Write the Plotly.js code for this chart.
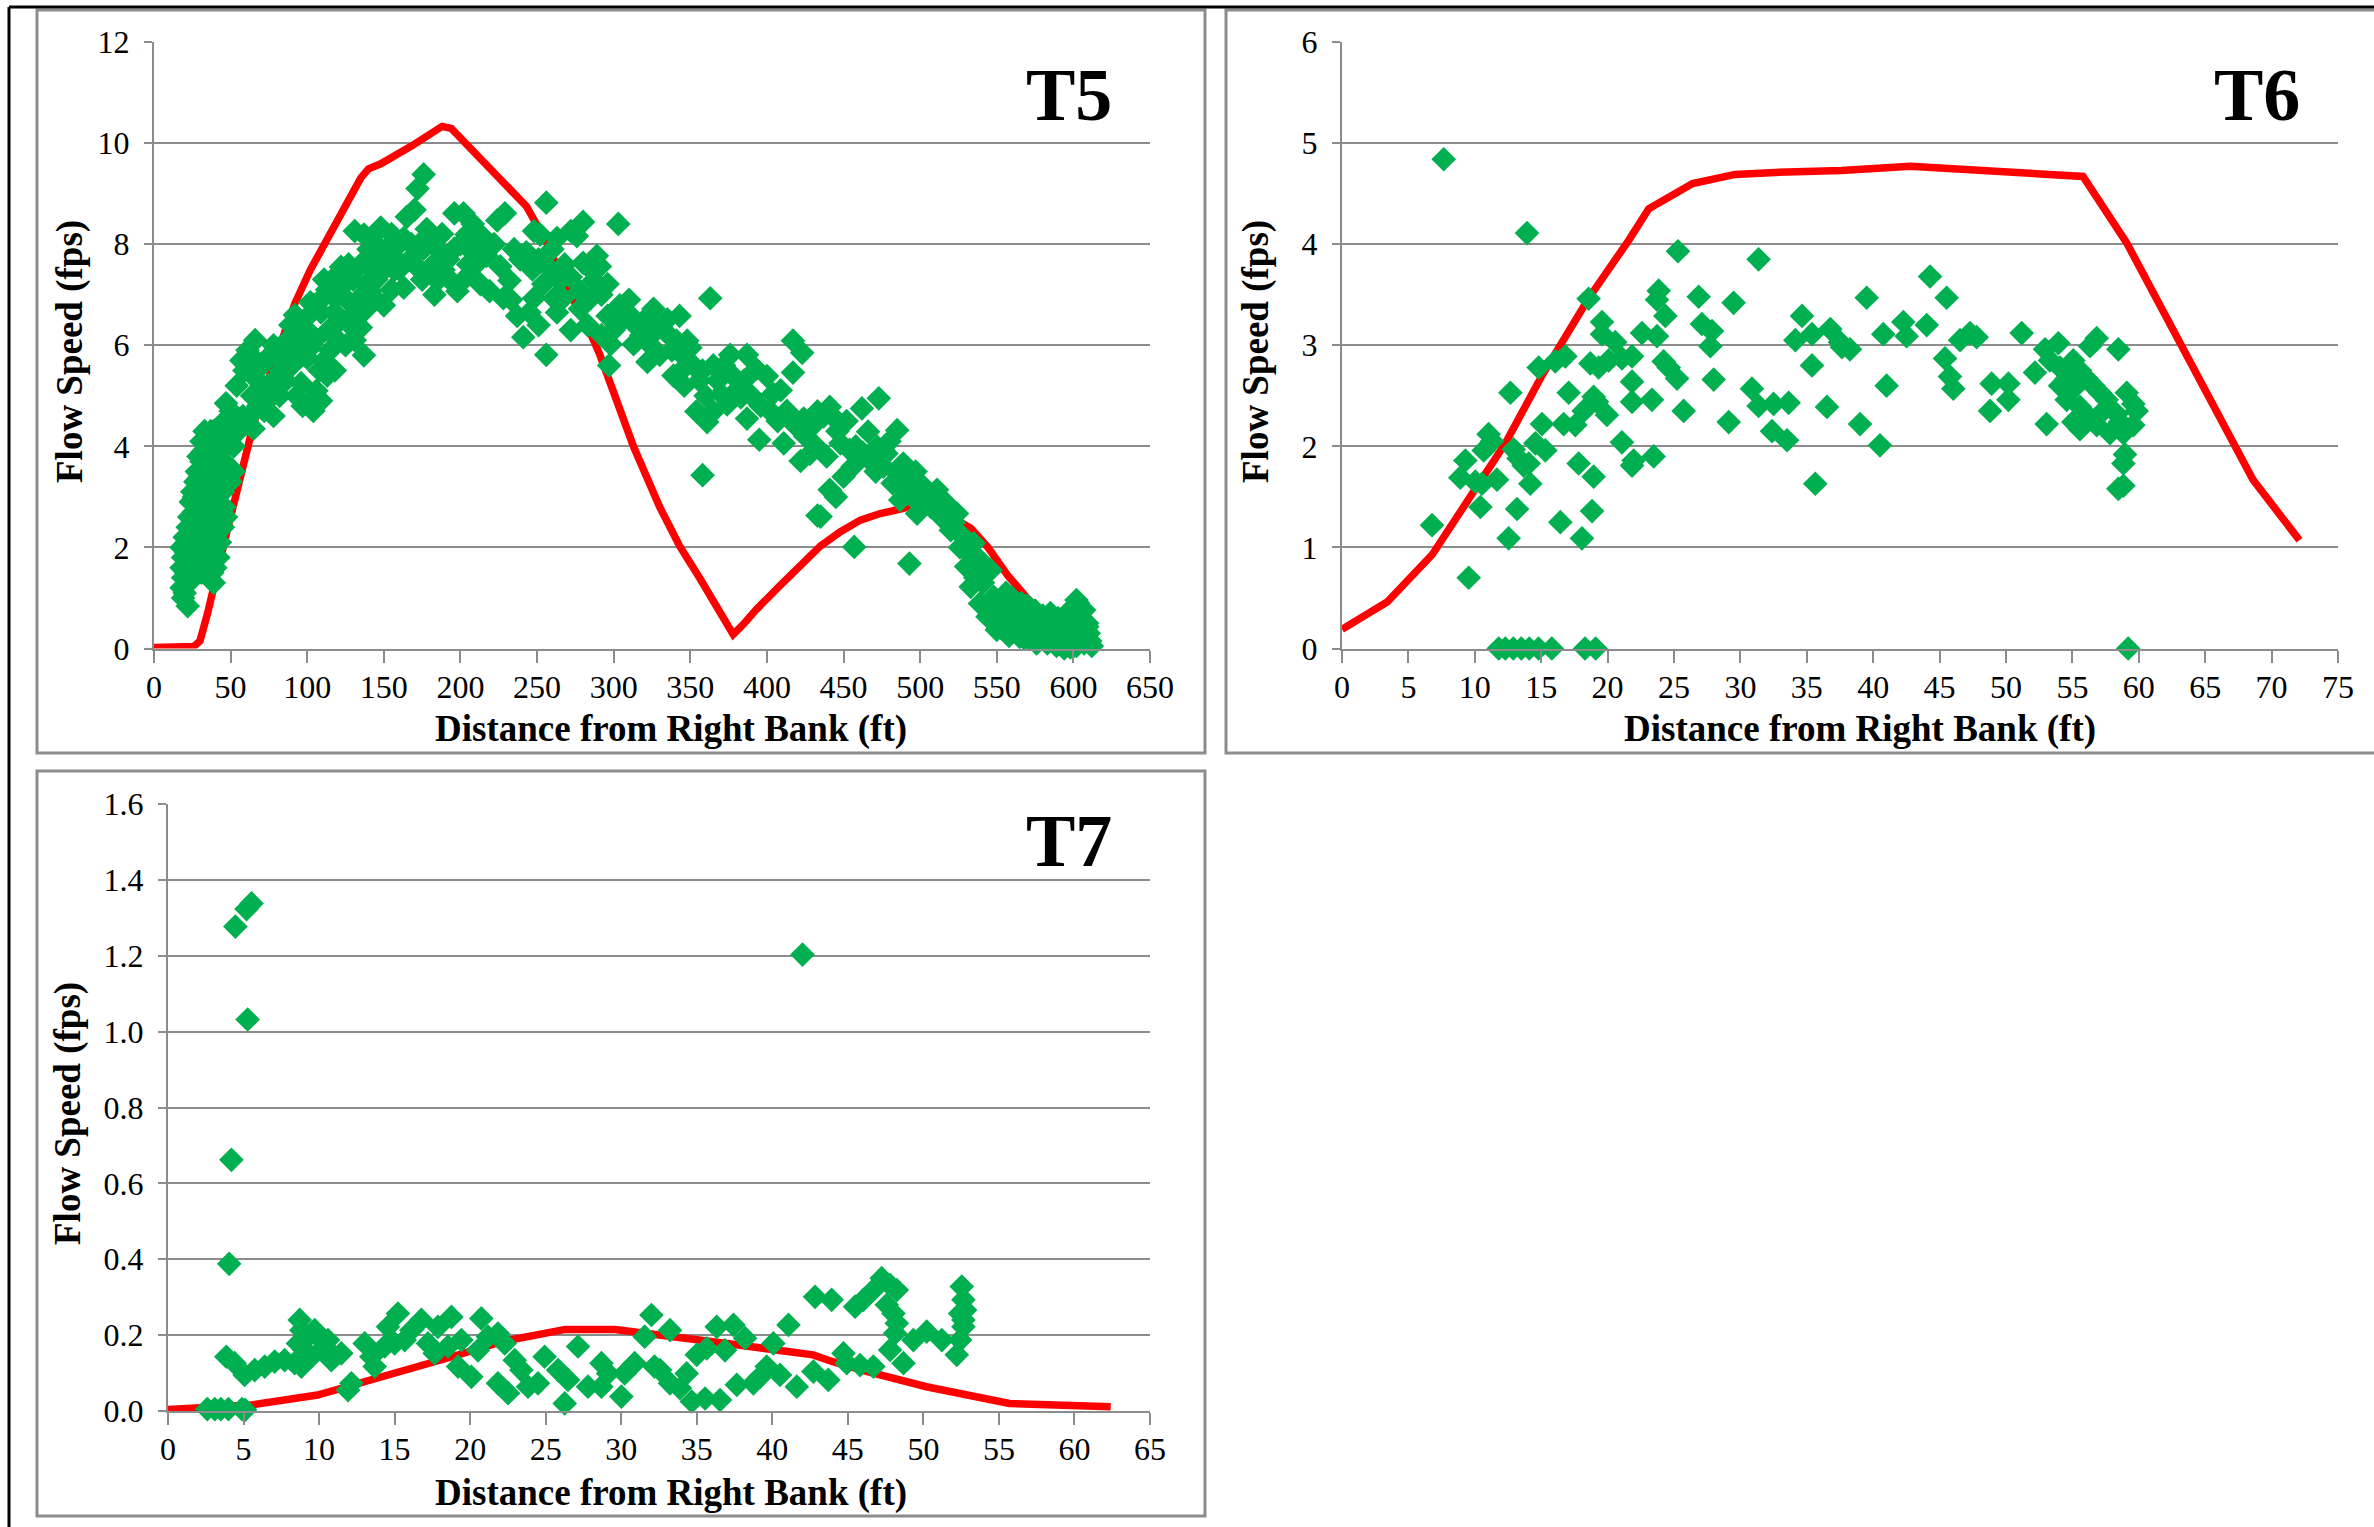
<!DOCTYPE html>
<html><head><meta charset="utf-8">
<script src="https://cdn.plot.ly/plotly-3.0.1.min.js"></script>
<style>html,body{margin:0;padding:0;background:#fff;} #chart{width:2374px;height:1527px;}</style>
</head><body><div id="chart"></div>
<script>
// ---------------- DATA ----------------
const panelLabels = ['T5', 'T6', 'T7'];
const xTitle = 'Distance from Right Bank (ft)';
const yTitle = 'Flow Speed (fps)';

// T5 modelled speed (red line)
const t5LineX = [0, 26, 30, 35, 47, 57, 65, 76, 86, 92, 102, 115, 126, 135, 140, 148, 168, 188, 194, 205, 213, 224, 239, 243, 256, 269, 282, 291, 302, 313, 330, 343, 356, 372, 378, 385, 393, 409, 435, 448, 461, 474, 489, 498, 515, 533, 544, 557, 570, 590, 605];
const t5LineY = [0.02, 0.04, 0.15, 0.70, 2.24, 3.50, 4.45, 5.45, 6.37, 6.83, 7.49, 8.19, 8.75, 9.31, 9.49, 9.59, 9.94, 10.33, 10.29, 9.94, 9.73, 9.35, 8.89, 8.75, 8.05, 7.14, 6.44, 5.81, 4.90, 3.99, 2.80, 2.03, 1.40, 0.56, 0.28, 0.49, 0.77, 1.26, 2.03, 2.31, 2.54, 2.67, 2.77, 2.87, 2.70, 2.38, 2.01, 1.45, 0.99, 0.40, 0.15];

// T5 measured speed (green diamonds) [distance, speed]
const t5Points = [
[22,0.84],[19,1.0],[18,1.2],[19,1.4],[18,1.6],[19,1.8],[18,2.0],[20,2.2],[21,1.5],[20,1.1],[22,1.3],[23,1.7],[21,1.9],[22,2.4],[24,2.1],[23,2.6],[24,2.9],[25,2.4],[25,3.1],[26,2.7],[27,3.3],[26,3.0],[28,2.9],[28,3.5],[29,3.2],[29,3.8],[30,3.4],[31,3.7],[31,4.1],[32,3.9],[33,4.3],[34,4.0],[35,3.6],[35,4.2],[36,3.8],[37,4.3],[37,3.4],[36,3.1],[34,3.3],[33,2.9],[32,2.6],[31,2.3],[30,2.0],[30,2.6],[29,2.3],[28,1.9],[27,1.6],[26,1.4],[25,1.8],[24,1.5],[26,2.0],[27,2.2],[29,1.7],[31,1.5],[33,1.6],[34,2.0],[35,2.4],[36,2.7],[38,3.0],[39,2.7],[38,2.3],[37,1.9],[38,1.5],[39,1.3],[40,1.6],[40,2.0],[41,2.4],[42,2.8],[41,3.1],[43,3.3],[42,3.7],[44,3.9],[44,3.5],[45,3.1],[46,2.8],[47,2.6],[45,2.4],[43,2.1],[42,1.8],[44,4.2],[46,4.0],[47,3.5],[49,3.6],[50,3.3],[52,3.5],[40,3.6],[39,4.0],[41,4.3],[43,4.4],
[39,4.3],[46,4.5],[50,4.7],[47,4.85],[54,5.2],[59,5.5],[57,5.7],[63,5.8],[61,5.9],[67,5.5],[70,5.1],[72,4.7],[65,4.35],[61,4.55],[76,5.25],[80,5.8],[87,6.1],[83,5.5],[89,6.4],[94,6.2],[96,5.25],[100,4.85],[104,4.7],[109,4.9],[113,5.4],[118,5.5],[111,5.7],[100,5.75],[102,5.95],[98,6.5],[104,6.8],[109,6.9],[113,7.1],[118,7.35],[122,7.55],[124,7.2],[126,6.9],[131,6.65],[135,6.35],[137,5.8],[131,6.1],[128,6.4],[122,6.5],[118,6.65],[109,6.65],[107,6.85],[111,7.3],[102,6.85],[96,6.0],[91,5.8],[85,5.95],[78,6.0],[55,4.3],[52,4.0],[58,4.6],[64,5.0],[68,4.8],[74,4.9],[78,4.6],[82,5.0],[86,5.3],[90,5.6],[93,5.0],[97,4.8],[106,5.1],[108,5.5],[115,5.9],[120,6.1],[125,6.0],[80,5.3],[70,5.6],[66,6.1],[74,5.75],[88,5.7],[92,6.6],[100,6.3],[105,6.1],[114,6.3],[116,7.0],[120,7.0],[127,7.6],[130,7.3],[133,6.9],[138,6.7],[140,7.0],[66,5.35],
[131,8.26],[137,8.19],[140,7.9],[148,8.33],[152,7.9],[158,7.7],[163,8.12],[165,8.54],[170,8.68],[172,9.1],[176,9.38],[160,8.0],[148,7.77],[150,7.49],[141,7.56],[141,7.07],[144,6.93],[150,6.79],[163,7.14],[157,7.49],[167,7.7],[176,7.91],[181,8.12],[185,7.91],[185,7.28],[181,7.56],[189,7.49],[196,7.91],[196,8.61],[202,8.61],[198,7.07],[204,7.35],[209,7.7],[211,8.05],[213,7.21],[204,8.19],[145,7.3],[155,7.1],[160,7.5],[170,7.6],[173,8.0],[178,8.3],[188,8.2],[192,7.7],[200,8.0],[206,7.9],[135,7.6],[138,7.2],[145,8.0],[155,8.2],[168,8.0],[175,7.3],[183,7.0],[193,7.3],[205,7.6],[208,8.4],
[229,8.61],[224,8.47],[256,8.82],[248,8.26],[252,8.19],[263,8.12],[272,8.26],[280,8.44],[276,8.16],[303,8.40],[213,8.19],[217,7.77],[226,7.56],[232,7.28],[228,6.93],[219,7.07],[239,7.70],[243,7.84],[251,7.70],[254,7.21],[259,7.49],[265,7.28],[272,7.35],[280,7.63],[289,7.77],[291,7.56],[287,7.28],[296,7.21],[278,7.07],[261,6.93],[263,6.65],[278,6.72],[272,6.30],[256,5.81],[241,6.16],[237,6.58],[245,6.65],[248,6.93],[267,6.93],[285,6.93],[297,5.60],[298,6.02],[296,6.58],[304,6.79],[309,6.65],[304,6.44],[315,6.37],[326,6.72],[335,6.51],[343,6.58],[313,6.02],[322,5.67],[330,5.81],[335,6.23],[341,6.09],[348,6.09],[343,5.46],[350,5.95],[363,6.93],[354,4.69],[361,4.48],[365,5.60],[370,5.04],[376,5.81],[378,5.39],[387,5.81],[383,4.97],[387,4.55],[393,5.53],[400,5.39],[404,5.04],[409,5.11],[417,6.09],[423,5.85],[417,5.46],[395,4.13],[411,4.06],[422,3.71],[428,3.85],[430,4.41],[424,4.55],[433,4.69],[358,3.43],[433,2.63],[374,4.83],[365,4.69],
[318,6.2],[324,6.0],[328,6.3],[338,5.9],[345,5.8],[352,5.6],[356,5.3],[360,5.0],[368,5.3],[372,5.6],[380,5.1],[385,5.3],[390,5.0],[396,4.8],[402,4.7],[407,4.5],[413,4.7],[419,4.4],[425,4.2],[432,4.0],[358,5.5],[346,5.2],[339,5.4],[310,6.9],[320,6.5],[300,6.3],[292,7.0],[285,7.5],[268,7.6],[260,7.9],[247,7.5],[235,7.9],[222,8.0],[210,7.6],[233,6.9],[251,6.4],[283,6.4],[292,6.2],
[441,4.78],[437,4.59],[443,4.59],[462,4.75],[473,4.95],[485,4.32],[466,4.29],[448,4.06],[439,3.80],[454,3.93],[463,3.86],[472,3.99],[478,3.86],[450,3.40],[471,3.50],[441,3.14],[445,3.00],[435,2.61],[482,3.27],[489,3.66],[493,3.40],[487,2.94],[500,3.27],[504,3.07],[498,2.67],[511,3.14],[517,2.87],[511,2.74],[524,2.67],[520,2.34],[528,2.21],[535,2.08],[530,1.62],[539,1.75],[546,1.55],[533,1.22],[539,0.89],[548,1.02],[544,0.63],[550,0.37],[557,0.89],[561,0.43],[570,0.70],[574,0.30],[578,0.56],[585,0.17],[587,0.63],[594,0.37],[602,0.96],[607,0.76],[609,0.43],[607,0.10],[600,0.04],[591,0.10],[576,0.10],[565,0.23],[493,1.68],[457,2.01],
[458,4.0],[468,3.7],[476,3.6],[484,3.5],[495,3.0],[502,2.9],[507,2.8],[514,2.6],[522,2.5],[526,2.0],[532,1.9],[536,1.4],[541,1.3],[446,4.3],[452,4.5],[456,3.6],[480,4.1],[490,3.2],[497,3.5],
[548,0.95],[550,0.75],[552,0.55],[555,0.8],[557,0.6],[559,0.4],[561,0.7],[563,0.5],[565,0.3],[567,0.6],[569,0.45],[571,0.2],[573,0.55],[575,0.35],[577,0.15],[579,0.45],[581,0.3],[583,0.1],[585,0.5],[587,0.25],[589,0.05],[591,0.4],[593,0.2],[595,0.55],[597,0.3],[599,0.1],[601,0.65],[603,0.45],[604,0.25],[605,0.8],[606,0.55],[607,0.35],[608,0.15],[609,0.5],[610,0.3],[603,0.9],[600,0.8],[596,0.7],[590,0.6],[585,0.7],[580,0.65],[575,0.75],[570,0.85],[566,0.9],[560,1.0],[556,1.1],[598,0.02],[602,0.05],[594,0.0],[588,0.15],[578,0.25],[568,0.2],[558,0.25],[553,0.4],[611,0.15],[612,0.05]
];

// T6 modelled speed (red line)
const t6LineX = [0, 3.4, 6.8, 10.0, 12.3, 15.1, 18.6, 21.6, 23.1, 26.4, 29.6, 32.6, 37.6, 42.8, 48.8, 55.8, 59.1, 63.4, 68.6, 72.1];
const t6LineY = [0.19, 0.46, 0.93, 1.56, 2.03, 2.71, 3.47, 4.04, 4.35, 4.60, 4.69, 4.71, 4.73, 4.77, 4.72, 4.67, 4.01, 2.96, 1.67, 1.07];

// T6 measured speed
const t6Points = [
[7.66,4.84],[13.93,4.11],[25.3,3.93],[31.37,3.85],[23.85,3.54],[23.72,3.45],[26.86,3.48],[29.49,3.42],[18.57,3.46],[24.35,3.29],[19.58,3.23],[27.1,3.21],[27.86,3.14],[34.64,3.29],[35.39,3.11],[36.77,3.16],[34.14,3.05],[37.65,2.98],[22.59,3.12],[23.72,3.09],[19.58,3.11],[20.58,3.03],[27.74,2.99],[16.82,2.89],[16.06,2.84],[14.81,2.78],[18.7,2.82],[19.33,2.78],[20.08,2.85],[21.08,2.87],[21.84,2.89],[24.22,2.84],[24.6,2.78],[25.23,2.67],[27.99,2.66],[35.39,2.80],[12.68,2.53],[17.07,2.53],[21.84,2.64],[18.95,2.49],[19.2,2.44],[21.84,2.44],[23.34,2.46],[30.87,2.57],[31.37,2.40],[32.5,2.42],[33.63,2.43],[36.52,2.39],[18.2,2.35],[19.95,2.31],[25.73,2.35],[29.12,2.24],[32.38,2.15],[33.51,2.06],[15.06,2.22],[16.69,2.22],[17.57,2.21],[11.04,2.12],[11.3,2.05],[10.67,1.96],[14.56,2.03],[15.31,1.96],[12.93,1.97],[13.3,1.88],[14.06,1.83],[13.68,1.81],[21.08,2.04],[9.29,1.86],[8.91,1.69],[10.04,1.65],[10.54,1.63],[11.67,1.67],[14.18,1.63],[17.82,1.83],[18.95,1.70],[21.96,1.86],[21.84,1.81],[23.47,1.90],[35.64,1.63],[10.42,1.40],[13.18,1.38],[18.83,1.36],[6.78,1.22],[16.44,1.25],[12.55,1.09],[18.07,1.09],[9.54,0.70],
[11.8,0],[12.3,0],[12.9,0],[13.5,0],[14.1,0],[14.8,0],[15.8,0],[18.3,0],[19.1,0],
[44.28,3.68],[45.53,3.47],[39.51,3.47],[42.27,3.23],[44.03,3.20],[42.52,3.09],[40.76,3.11],[37.5,3.03],[38.25,2.96],[46.54,3.05],[47.29,3.12],[47.79,3.08],[51.18,3.12],[45.41,2.87],[45.78,2.69],[46.03,2.57],[41.01,2.60],[48.92,2.62],[50.18,2.62],[50.18,2.46],[48.8,2.35],[52.18,2.73],[52.94,2.96],[53.94,3.02],[53.31,2.85],[56.83,3.07],[56.33,2.99],[58.46,2.96],[54.07,2.78],[54.57,2.67],[55.07,2.85],[55.57,2.75],[56.07,2.67],[56.58,2.60],[57.08,2.53],[55.07,2.57],[54.07,2.60],[54.57,2.46],[55.57,2.39],[56.33,2.28],[57.33,2.35],[57.58,2.46],[55.07,2.24],[55.57,2.17],[56.83,2.21],[57.83,2.13],[59.09,2.53],[59.59,2.42],[59.84,2.35],[59.59,2.21],[58.58,2.24],[58.84,2.13],[58.33,2.32],[53.06,2.22],[39.01,2.22],[40.51,2.01],[58.96,1.92],[58.84,1.83],[58.46,1.58],[58.84,1.61],[59.2,0]
];

// T7 modelled speed (red line)
const t7LineX = [0, 5.5, 9.9, 12.4, 15.5, 18.8, 22.1, 26.3, 29.6, 32.6, 37.0, 42.7, 44.0, 46.3, 50.2, 55.7, 62.4];
const t7LineY = [0.004, 0.016, 0.042, 0.069, 0.104, 0.143, 0.183, 0.215, 0.215, 0.198, 0.178, 0.148, 0.130, 0.104, 0.064, 0.020, 0.011];

// T7 measured speed
const t7Points = [
[4.46,1.277],[5.2,1.323],[5.53,1.338],[5.27,1.032],[4.2,0.662],[4.05,0.388],[42.0,1.203],
[2.6,0.005],[3.1,0.005],[3.5,0.005],[4.0,0.005],[4.9,0.005],[5.1,0.003],
[3.86,0.143],[4.41,0.126],[5.07,0.095],[5.74,0.108],[6.4,0.117],[7.06,0.13],[7.72,0.134],[8.38,0.126],[8.72,0.24],[8.83,0.213],[8.6,0.178],[8.83,0.117],[9.27,0.196],[9.71,0.213],[9.05,0.16],[9.49,0.143],[9.93,0.196],[10.59,0.187],[10.37,0.17],[11.03,0.143],[11.47,0.152],[10.81,0.134],[12.14,0.073],[11.92,0.055],[13.02,0.178],[13.46,0.143],[13.68,0.117],[14.56,0.222],[15.22,0.257],[14.34,0.17],[15.0,0.178],[15.67,0.187],[16.11,0.213],[16.77,0.24],[17.21,0.178],[17.65,0.152],[17.87,0.222],[18.76,0.248],[18.53,0.17],[19.42,0.187],[19.2,0.117],[20.08,0.09],[20.74,0.244],[20.52,0.16],[21.18,0.196],[21.84,0.204],[22.29,0.178],[21.84,0.073],[22.95,0.134],[23.39,0.108],[22.51,0.047],[23.83,0.064],[24.49,0.073],[24.93,0.143],[25.82,0.108],[26.48,0.082],[26.26,0.02],[27.14,0.17],[27.8,0.064],[28.69,0.126],[29.13,0.099],[28.69,0.064],[30.01,0.038],[30.23,0.099],[30.89,0.126],[31.55,0.196],[32.0,0.253],[32.2,0.117],
[33.23,0.213],[32.57,0.108],[33.23,0.073],[33.89,0.06],[34.33,0.099],[34.67,0.025],[35.0,0.148],[35.66,0.165],[35.55,0.033],[36.32,0.222],[36.54,0.029],[36.87,0.16],[37.43,0.227],[38.2,0.192],[37.65,0.069],[38.75,0.073],[39.19,0.09],[39.63,0.117],[40.07,0.178],[40.51,0.095],[41.07,0.227],[41.62,0.064],[42.72,0.104],[42.83,0.301],[43.93,0.293],[43.71,0.082],[44.71,0.152],[44.93,0.126],[45.81,0.121],[46.69,0.117],[45.48,0.275],[46.03,0.293],[46.69,0.319],[47.24,0.35],[47.8,0.332],[48.24,0.319],[47.58,0.28],[48.02,0.257],[48.24,0.231],[48.13,0.205],[47.8,0.161],[48.68,0.126],[49.34,0.187],[50.22,0.209],[51.22,0.187],[52.21,0.148],[52.43,0.187],[52.65,0.222],[52.43,0.257],[52.65,0.293],[52.54,0.328],[52.76,0.266],[52.65,0.24]
];

// ---------------- CHART ----------------
const W = 2374, H = 1527;
const GREEN = '#00B050', RED = '#FF0000', GRID = '#8c8c8c';
const FONT = 'Liberation Serif, Times New Roman, serif';
const px = v => v / W;
const py = v => 1 - v / H;

function lineTrace(xs, ys, ax) {
  return {x: xs, y: ys, xaxis: ax[0], yaxis: ax[1], type: 'scatter', mode: 'lines',
    line: {color: RED, width: 7.5}, showlegend: false, hoverinfo: 'skip', cliponaxis: false};
}
function pointTrace(pts, ax) {
  return {x: pts.map(p => p[0]), y: pts.map(p => p[1]), xaxis: ax[0], yaxis: ax[1],
    type: 'scatter', mode: 'markers', cliponaxis: false,
    marker: {symbol: 'diamond', size: 19, color: GREEN, line: {width: 0}}, showlegend: false};
}

const traces = [
  lineTrace(t5LineX, t5LineY, ['x', 'y']), pointTrace(t5Points, ['x', 'y']),
  lineTrace(t6LineX, t6LineY, ['x2', 'y2']), pointTrace(t6Points, ['x2', 'y2']),
  lineTrace(t7LineX, t7LineY, ['x3', 'y3']), pointTrace(t7Points, ['x3', 'y3'])
];

function xAxis(domain, range, dtick, anchor) {
  return {domain: domain, range: range, dtick: dtick, tick0: 0, anchor: anchor,
    showgrid: false, zeroline: false, showline: true, linecolor: GRID, linewidth: 2,
    ticks: 'outside', ticklen: 12, tickwidth: 2, tickcolor: GRID, ticklabelstandoff: -3,
    tickfont: {family: FONT, size: 32, color: '#000'}};
}
function yAxis(domain, range, dtick, anchor, fmt) {
  return {domain: domain, range: range, dtick: dtick, tick0: 0, anchor: anchor, tickformat: fmt,
    showgrid: true, gridcolor: GRID, gridwidth: 2, zeroline: false, showline: true, linecolor: GRID, linewidth: 2,
    ticks: 'outside', ticklen: 8, tickwidth: 2, tickcolor: GRID, ticklabelstandoff: 8,
    tickfont: {family: FONT, size: 32, color: '#000'}};
}

function textAnn(text, x, y, size, angle) {
  return {text: text, xref: 'paper', yref: 'paper', x: px(x), y: py(y), showarrow: false,
    xanchor: 'center', yanchor: 'middle', textangle: angle || 0,
    font: {family: FONT, size: size, color: '#000', weight: 'bold'}};
}

const topDom = [py(648.5), py(42)];
const layout = {
  width: W, height: H, margin: {l: 0, r: 0, t: 0, b: 0},
  paper_bgcolor: '#fff', plot_bgcolor: 'rgba(0,0,0,0)', showlegend: false,
  xaxis: xAxis([px(154), px(1150)], [0, 650], 50, 'y'),
  yaxis: yAxis(topDom, [0, 12], 2, 'x', ''),
  xaxis2: xAxis([px(1342), px(2338)], [0, 75], 5, 'y2'),
  yaxis2: yAxis(topDom, [0, 6], 1, 'x2', ''),
  xaxis3: xAxis([px(168), px(1150)], [0, 65], 5, 'y3'),
  yaxis3: yAxis([py(1411), py(804)], [0, 1.6], 0.2, 'x3', '.1f'),
  shapes: [
    {type: 'rect', xref: 'paper', yref: 'paper', x0: px(37), x1: px(1205), y0: py(10), y1: py(753), line: {color: GRID, width: 3}},
    {type: 'rect', xref: 'paper', yref: 'paper', x0: px(1226), x1: px(2390), y0: py(10), y1: py(753), line: {color: GRID, width: 3}},
    {type: 'rect', xref: 'paper', yref: 'paper', x0: px(37), x1: px(1205), y0: py(771), y1: py(1516), line: {color: GRID, width: 3}},
    {type: 'line', xref: 'paper', yref: 'paper', x0: px(9), x1: px(2380), y0: py(7), y1: py(7), line: {color: '#000', width: 3}},
    {type: 'line', xref: 'paper', yref: 'paper', x0: px(9), x1: px(9), y0: py(7), y1: py(1535), line: {color: '#000', width: 3}}
  ],
  annotations: [
    textAnn(panelLabels[0], 1069, 95, 74),
    textAnn(panelLabels[1], 2257, 95, 74),
    textAnn(panelLabels[2], 1069, 841, 74),
    textAnn(xTitle, 671, 729, 37),
    textAnn(xTitle, 1860, 729, 37),
    textAnn(xTitle, 671, 1493, 37),
    textAnn(yTitle, 70, 352, 37, -90),
    textAnn(yTitle, 1256, 352, 37, -90),
    textAnn(yTitle, 68, 1114, 37, -90)
  ]
};

Plotly.newPlot('chart', traces, layout, {displayModeBar: false, staticPlot: true});
</script></body></html>
